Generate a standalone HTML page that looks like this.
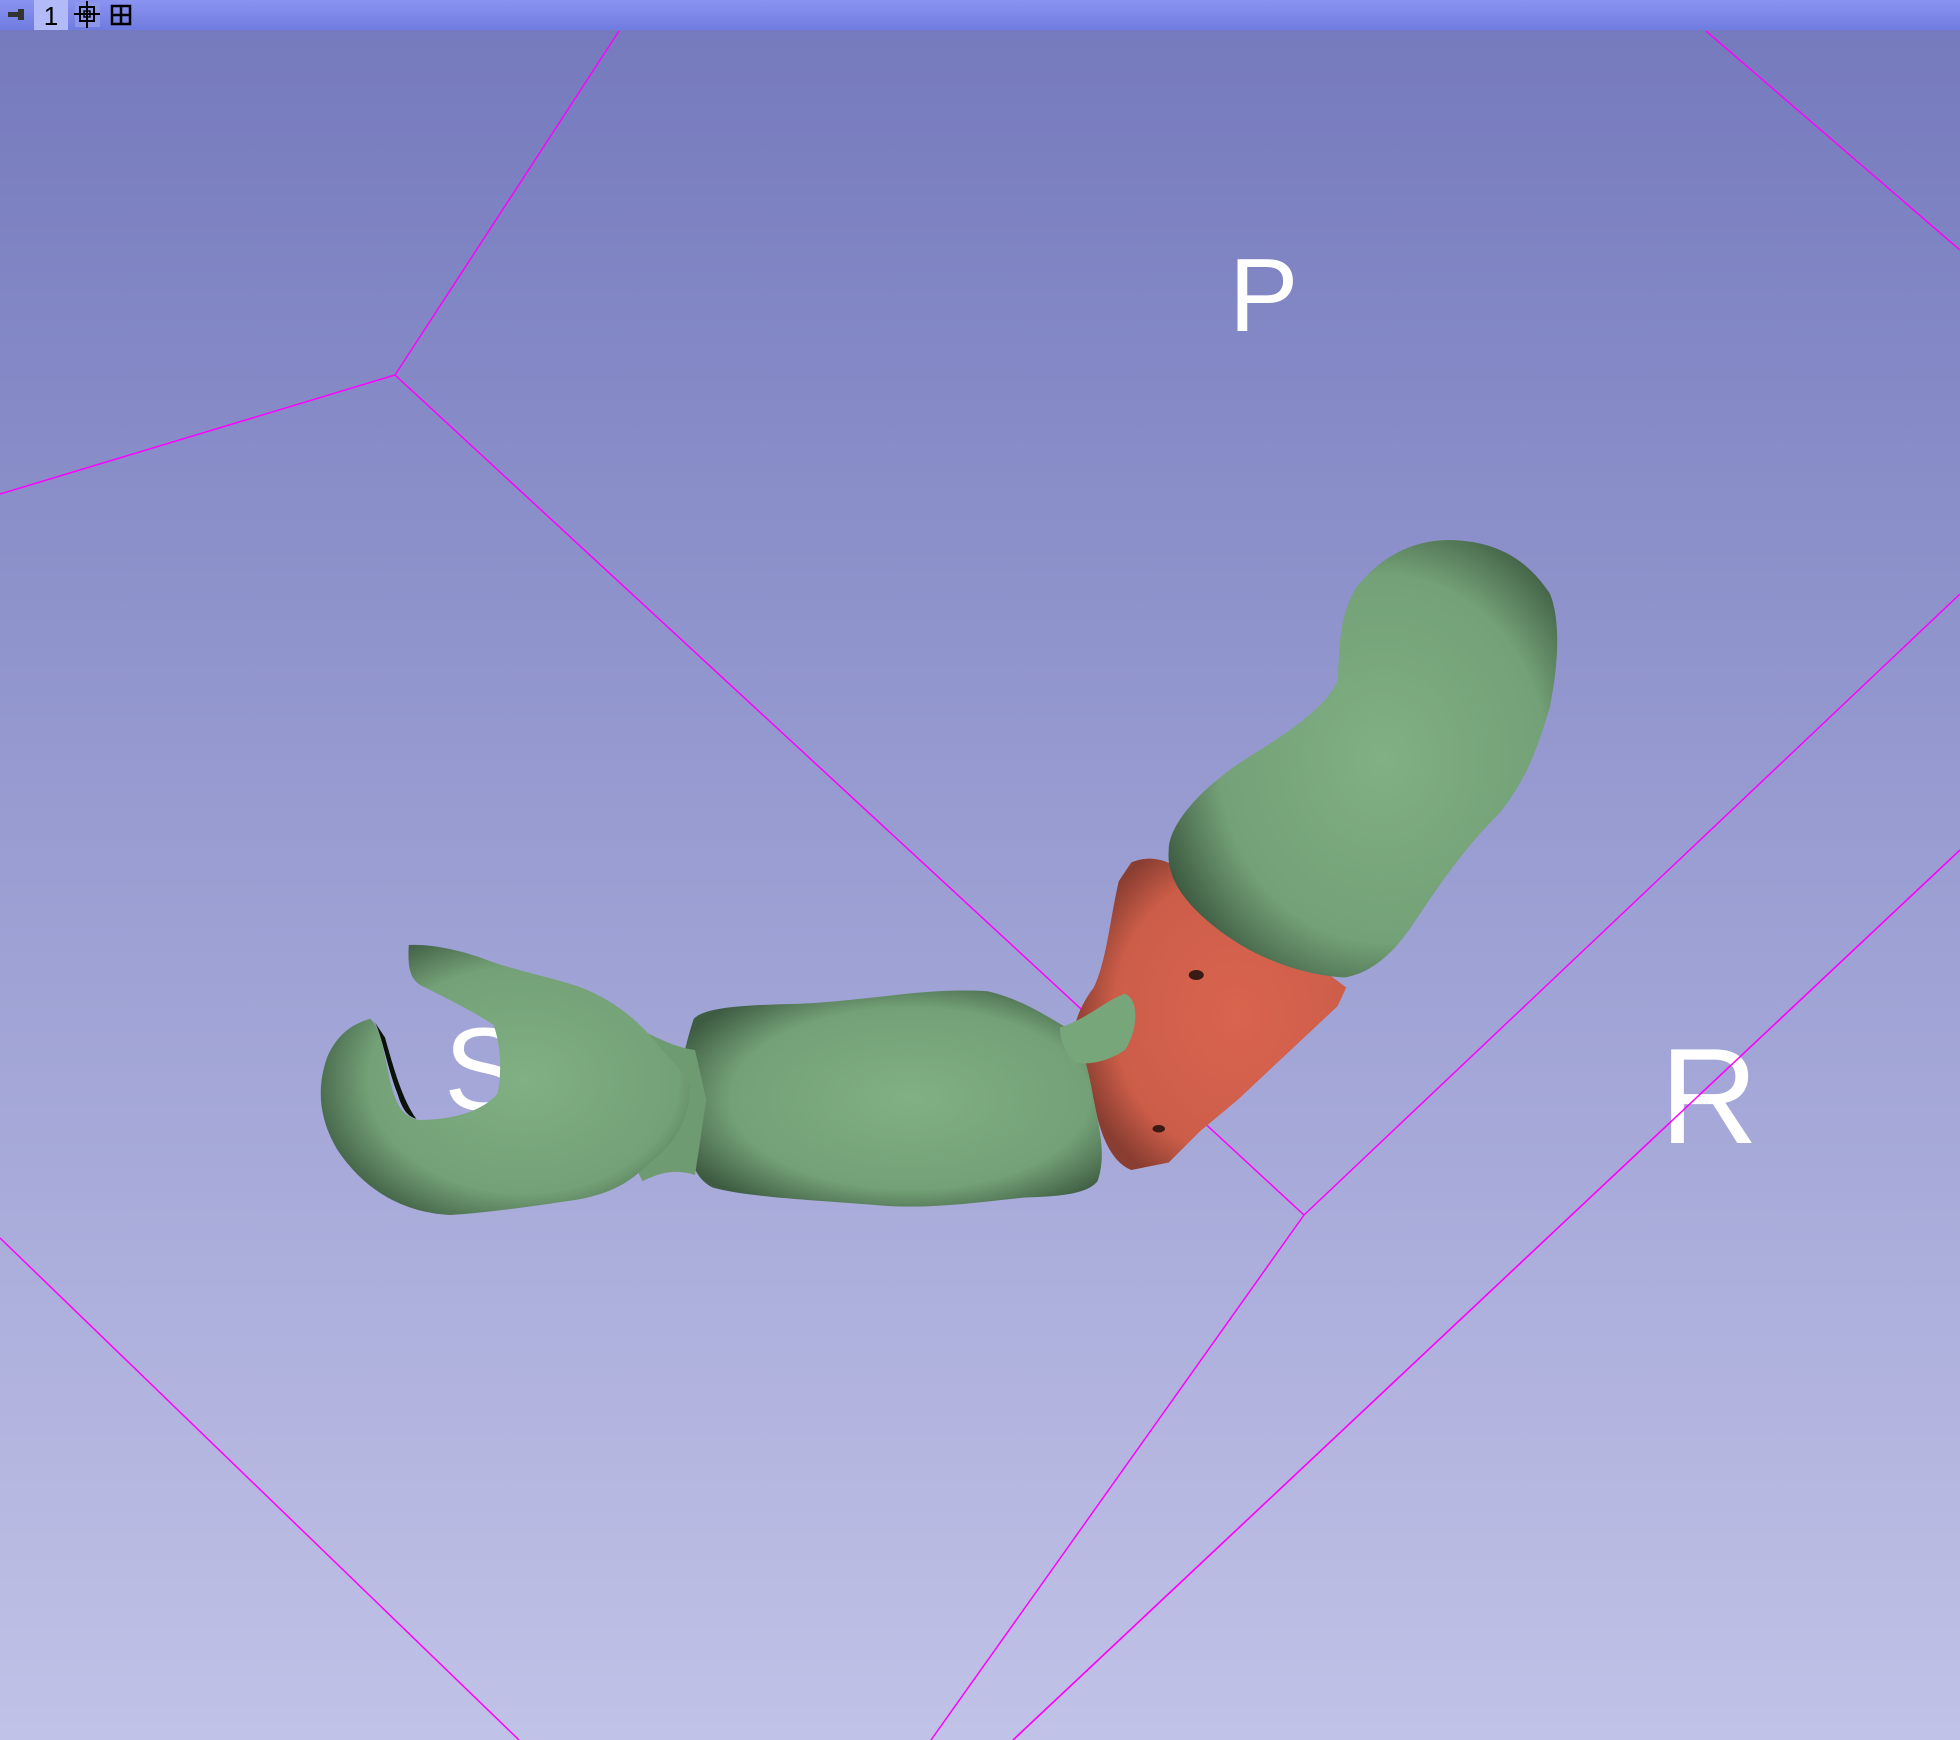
<!DOCTYPE html>
<html><head><meta charset="utf-8"><style>
html,body{margin:0;padding:0;width:1960px;height:1740px;overflow:hidden;background:#9a9fd2}
svg{display:block}
</style></head><body>
<svg width="1960" height="1740" viewBox="0 0 1960 1740" xmlns="http://www.w3.org/2000/svg">
<defs>
<linearGradient id="bg" x1="0" y1="0" x2="0" y2="1">
<stop offset="0" stop-color="#7479bd"/><stop offset="0.5" stop-color="#9a9ed2"/><stop offset="1" stop-color="#c1c2e7"/>
</linearGradient>
<linearGradient id="bar" x1="0" y1="0" x2="0" y2="1">
<stop offset="0" stop-color="#8a93f0"/><stop offset="1" stop-color="#6f7ce0"/>
</linearGradient>
<radialGradient id="gr" cx="0.55" cy="0.5" r="0.6">
<stop offset="0" stop-color="#80b083"/><stop offset="0.7" stop-color="#74a177"/><stop offset="1" stop-color="#3e5c42"/>
</radialGradient>
<radialGradient id="rd" cx="0.6" cy="0.5" r="0.6">
<stop offset="0" stop-color="#d9644f"/><stop offset="0.75" stop-color="#cc5d49"/><stop offset="1" stop-color="#8a3e31"/>
</radialGradient>
</defs>
<rect width="1960" height="1740" fill="url(#bg)"/>
<g stroke="#ff00ff" stroke-width="1.5" fill="none">
<line x1="619" y1="31" x2="395" y2="375"/>
<line x1="395" y1="375" x2="0" y2="494"/>
<line x1="395" y1="375" x2="1304" y2="1215"/>
<line x1="1304" y1="1215" x2="1960" y2="594"/>
<line x1="1304" y1="1215" x2="931" y2="1740"/>
<line x1="1706" y1="31" x2="1960" y2="250"/>
<line x1="0" y1="1238" x2="519" y2="1740"/>
<line x1="1960" y1="850" x2="1013" y2="1740"/>
</g>
<text x="1229" y="331" font-family="Liberation Sans, sans-serif" font-size="104" fill="#fff">P</text>
<text x="444" y="1110" font-family="Liberation Sans, sans-serif" font-size="118" fill="#fff">S</text>
<text x="1660" y="1143" font-family="Liberation Sans, sans-serif" font-size="136" fill="#fff">R</text>
<line x1="1960" y1="850" x2="1013" y2="1740" stroke="#ff00ff" stroke-width="1.5"/>
<g transform="scale(1.25)">
<path fill="url(#rd)" d="M905,690 C925,682 940,690 965,710 L1030,755 L1077,790 L1070,805 L990,880 L960,905 L935,930 L905,936 C890,930 880,910 875,880 L860,850 C855,830 860,810 875,790 C885,770 888,735 895,705 Z"/>
<path fill="url(#gr)" d="M555,815 C565,805 600,804 640,803 C700,800 740,790 790,793 C820,800 840,815 855,823 C865,835 870,850 875,880 C880,905 885,925 878,945 C870,955 850,957 820,958 C780,962 740,968 700,964 C650,960 600,958 570,950 C555,942 555,930 550,920 L540,880 C545,850 550,830 555,815 Z"/>
<path fill="#78a67b" d="M848,822 C870,815 885,800 900,795 C912,800 910,825 900,840 C885,850 870,852 860,850 C852,842 848,832 848,822 Z"/>
<path fill="url(#gr)" d="M935,680 C935,660 960,630 1000,605 C1040,580 1060,565 1070,545 C1072,520 1070,495 1085,470 C1105,445 1130,432 1160,432 C1195,433 1220,445 1240,475 C1250,500 1245,540 1240,565 C1230,600 1220,625 1200,650 C1170,680 1150,710 1130,740 C1110,770 1090,780 1075,782 C1040,780 1000,765 970,740 C945,720 933,700 935,680 Z"/>
<path fill="#6f9b72" d="M505,820 C525,830 540,838 556,840 L565,880 L556,940 C540,935 528,938 514,945 C505,930 505,900 505,870 Z"/>
<path fill="url(#gr)" d="M327,756 C345,755 370,760 395,770 C420,778 445,783 465,790 C490,800 510,815 528,838 C540,852 550,860 552,870 C552,895 540,915 520,930 C505,945 490,955 460,960 C420,966 390,970 360,972 C320,970 290,950 270,920 C255,895 253,870 262,845 C270,828 280,820 296,815 C303,820 306,835 310,855 C315,880 320,893 335,896 C360,896 385,890 398,875 C402,855 400,835 395,820 C380,810 360,800 340,790 C328,785 326,775 327,756 Z"/>
<path fill="#0b120c" d="M300,818 C306,830 310,855 318,875 C322,888 326,893 333,895 C322,880 315,855 308,830 Z"/>
<ellipse cx="957" cy="780" rx="6" ry="4" fill="#3a1a14"/>
<ellipse cx="927" cy="903" rx="5" ry="3" fill="#3a1a14"/>
</g>
<rect x="0" y="0" width="1960" height="30" fill="url(#bar)"/>
<g><rect x="8" y="12" width="12" height="5" fill="#333"/><rect x="18" y="9" width="6" height="11" fill="#333"/></g>
<rect x="34" y="0" width="34" height="30" fill="#b3baf8"/>
<text x="51" y="25" text-anchor="middle" font-family="Liberation Sans, sans-serif" font-size="26" fill="#000">1</text>
<g>
<rect x="75" y="2" width="25" height="25" fill="#8c97ea"/>
<rect x="80" y="7" width="14" height="14" fill="none" stroke="#000" stroke-width="2"/>
<rect x="84" y="11" width="6" height="6" fill="none" stroke="#000" stroke-width="1.5"/>
<line x1="87" y1="1" x2="87" y2="28" stroke="#000" stroke-width="2"/>
<line x1="74" y1="14" x2="100" y2="14" stroke="#000" stroke-width="2"/>
</g>
<g fill="none" stroke="#000" stroke-width="2.5">
<rect x="112" y="6" width="18" height="18"/><line x1="121" y1="6" x2="121" y2="24"/><line x1="112" y1="15" x2="130" y2="15"/>
</g>
</svg>
</body></html>
